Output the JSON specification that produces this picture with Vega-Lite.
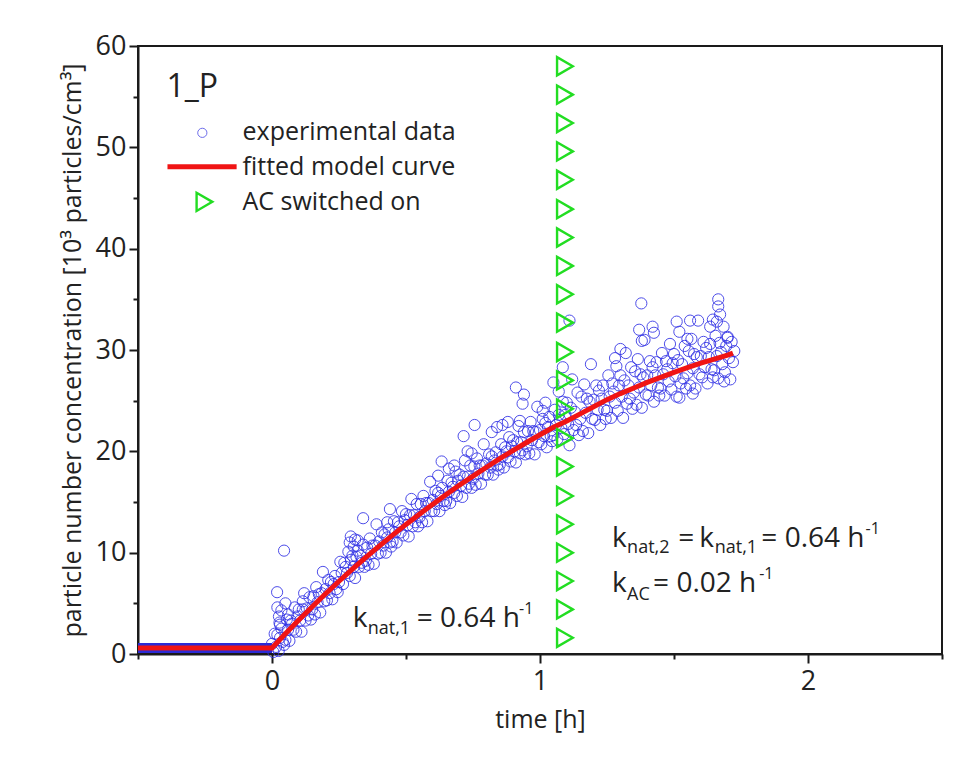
{
  "$schema": "https://vega.github.io/schema/vega-lite/v6.json",
  "width": 804,
  "height": 608,
  "autosize": {"type": "none"},
  "padding": {"left": 138, "top": 46, "right": 14, "bottom": 103},
  "background": "white",
  "config": {
    "view": {"stroke": "#1a1a1a", "strokeWidth": 2},
    "font": "Open Sans",
    "text": {"font": "Open Sans", "color": "#222222"}
  },
  "resolve": {"axis": {"x": "independent", "y": "independent"}},
  "datasets": {
    "band": [{"t": -0.5, "c": 0.6}, {"t": 0, "c": 0.6}],
    "exp": [
      {"t":0,"c":1.0},{"t":0.005,"c":0.2},{"t":0.01,"c":2.0},{"t":0.015,"c":0.7},{"t":0.02,"c":1.9},{"t":0.025,"c":0.3},{"t":0.03,"c":1.6},{"t":0.035,"c":2.5},{"t":0.04,"c":1.2},{"t":0.045,"c":0.9},
      {"t":0.045,"c":10.2},{"t":0.019,"c":6.1},{"t":0.026,"c":3.7},{"t":0.028,"c":3.1},{"t":0.02,"c":4.6},{"t":0.035,"c":4.3},{"t":0.05,"c":5.0},{"t":0.06,"c":3.9},{"t":0.03,"c":2.9},{"t":0.115,"c":5.2},
      {"t":0.05,"c":1.4},{"t":0.055,"c":3.4},{"t":0.06,"c":2.4},{"t":0.065,"c":1.3},{"t":0.07,"c":3.3},{"t":0.075,"c":3.0},{"t":0.08,"c":2.4},{"t":0.085,"c":4.6},{"t":0.09,"c":2.2},{"t":0.095,"c":3.7},
      {"t":0.1,"c":4.4},{"t":0.105,"c":3.3},{"t":0.11,"c":2.2},{"t":0.115,"c":4.4},{"t":0.12,"c":6.0},{"t":0.125,"c":3.3},{"t":0.13,"c":4.5},{"t":0.135,"c":3.8},{"t":0.14,"c":5.6},{"t":0.145,"c":3.4},
      {"t":0.15,"c":4.4},{"t":0.155,"c":5.7},{"t":0.16,"c":3.9},{"t":0.165,"c":6.6},{"t":0.17,"c":5.1},{"t":0.175,"c":5.9},{"t":0.18,"c":4.1},{"t":0.185,"c":6.0},{"t":0.19,"c":8.1},{"t":0.195,"c":5.2},
      {"t":0.2,"c":6.4},{"t":0.205,"c":5.3},{"t":0.21,"c":7.3},{"t":0.215,"c":6.0},{"t":0.22,"c":7.1},{"t":0.225,"c":5.4},{"t":0.23,"c":6.9},{"t":0.235,"c":7.7},{"t":0.24,"c":6.4},{"t":0.245,"c":6.1},
      {"t":0.25,"c":7.1},{"t":0.255,"c":9.1},{"t":0.26,"c":8.0},{"t":0.265,"c":6.9},{"t":0.27,"c":9.0},{"t":0.275,"c":8.6},{"t":0.28,"c":8.0},{"t":0.285,"c":10.1},{"t":0.29,"c":7.7},{"t":0.295,"c":9.3},
      {"t":0.294,"c":11.6},{"t":0.29,"c":11.0},{"t":0.305,"c":10.6},{"t":0.31,"c":11.3},{"t":0.32,"c":10.2},
      {"t":0.3,"c":9.7},{"t":0.305,"c":8.6},{"t":0.31,"c":7.5},{"t":0.315,"c":9.6},{"t":0.32,"c":11.2},{"t":0.325,"c":8.6},{"t":0.33,"c":9.7},{"t":0.335,"c":9.0},{"t":0.34,"c":10.8},{"t":0.345,"c":8.6},{"t":0.34,"c":13.4},
      {"t":0.35,"c":9.2},{"t":0.355,"c":10.5},{"t":0.36,"c":8.8},{"t":0.365,"c":11.4},{"t":0.37,"c":9.9},{"t":0.375,"c":10.7},{"t":0.38,"c":8.9},{"t":0.385,"c":10.7},{"t":0.39,"c":12.8},{"t":0.395,"c":9.9},
      {"t":0.4,"c":11.1},{"t":0.405,"c":10.0},{"t":0.41,"c":12.0},{"t":0.415,"c":10.7},{"t":0.42,"c":11.8},{"t":0.425,"c":10.0},{"t":0.43,"c":11.5},{"t":0.435,"c":12.3},{"t":0.44,"c":11.0},{"t":0.445,"c":10.6},{"t":0.44,"c":14.3},{"t":0.43,"c":13.0},
      {"t":0.45,"c":11.1},{"t":0.455,"c":13.1},{"t":0.46,"c":12.0},{"t":0.465,"c":11.0},{"t":0.47,"c":13.0},{"t":0.475,"c":12.6},{"t":0.48,"c":12.0},{"t":0.485,"c":14.1},{"t":0.49,"c":11.7},{"t":0.495,"c":13.2},
      {"t":0.5,"c":13.8},{"t":0.505,"c":12.7},{"t":0.51,"c":11.6},{"t":0.515,"c":13.7},{"t":0.52,"c":15.3},{"t":0.525,"c":12.6},{"t":0.53,"c":13.7},{"t":0.535,"c":13.0},{"t":0.54,"c":14.8},{"t":0.545,"c":12.6},
      {"t":0.55,"c":13.5},{"t":0.555,"c":14.8},{"t":0.56,"c":13.0},{"t":0.565,"c":15.6},{"t":0.57,"c":14.1},{"t":0.575,"c":14.9},{"t":0.58,"c":13.1},{"t":0.585,"c":14.9},{"t":0.59,"c":17.0},{"t":0.595,"c":14.1},
      {"t":0.6,"c":15.2},{"t":0.605,"c":14.1},{"t":0.61,"c":16.1},{"t":0.615,"c":14.8},{"t":0.62,"c":15.9},{"t":0.625,"c":14.1},{"t":0.63,"c":15.6},{"t":0.635,"c":16.4},{"t":0.64,"c":15.1},{"t":0.645,"c":14.7},{"t":0.633,"c":19.0},{"t":0.62,"c":17.6},
      {"t":0.65,"c":15.1},{"t":0.655,"c":17.1},{"t":0.66,"c":16.0},{"t":0.665,"c":14.9},{"t":0.67,"c":16.9},{"t":0.675,"c":16.5},{"t":0.68,"c":15.9},{"t":0.685,"c":18.0},{"t":0.69,"c":15.6},{"t":0.695,"c":17.1},{"t":0.68,"c":18.6},{"t":0.66,"c":18.3},
      {"t":0.7,"c":17.7},{"t":0.705,"c":16.6},{"t":0.71,"c":15.5},{"t":0.715,"c":17.5},{"t":0.72,"c":19.1},{"t":0.725,"c":16.4},{"t":0.73,"c":17.5},{"t":0.735,"c":16.8},{"t":0.74,"c":18.6},{"t":0.745,"c":16.4},{"t":0.715,"c":21.5},{"t":0.756,"c":22.6},{"t":0.73,"c":20.0},{"t":0.745,"c":19.8},
      {"t":0.75,"c":17.3},{"t":0.755,"c":18.5},{"t":0.76,"c":16.7},{"t":0.765,"c":19.3},{"t":0.77,"c":17.8},{"t":0.775,"c":18.6},{"t":0.78,"c":16.8},{"t":0.785,"c":18.6},{"t":0.79,"c":20.7},{"t":0.795,"c":17.7},
      {"t":0.8,"c":18.8},{"t":0.805,"c":17.7},{"t":0.81,"c":19.7},{"t":0.815,"c":18.4},{"t":0.82,"c":19.5},{"t":0.825,"c":17.7},{"t":0.83,"c":19.1},{"t":0.835,"c":19.9},{"t":0.84,"c":18.6},{"t":0.845,"c":18.2},{"t":0.82,"c":21.9},{"t":0.84,"c":22.4},
      {"t":0.85,"c":18.7},{"t":0.855,"c":20.7},{"t":0.86,"c":19.5},{"t":0.865,"c":18.4},{"t":0.87,"c":20.4},{"t":0.875,"c":20.0},{"t":0.88,"c":19.4},{"t":0.885,"c":21.4},{"t":0.89,"c":19.0},{"t":0.895,"c":20.5},{"t":0.86,"c":22.6},{"t":0.88,"c":22.9},
      {"t":0.9,"c":21.1},{"t":0.905,"c":20.0},{"t":0.91,"c":18.9},{"t":0.915,"c":20.9},{"t":0.92,"c":22.5},{"t":0.925,"c":19.8},{"t":0.93,"c":20.9},{"t":0.935,"c":20.1},{"t":0.94,"c":21.9},{"t":0.945,"c":19.7},{"t":0.91,"c":26.3},{"t":0.94,"c":25.6},{"t":0.935,"c":24.7},{"t":0.925,"c":23.0},
      {"t":0.95,"c":20.5},{"t":0.955,"c":22.0},{"t":0.96,"c":19.8},{"t":0.965,"c":22.9},{"t":0.97,"c":21.1},{"t":0.975,"c":22.0},{"t":0.98,"c":19.7},{"t":0.985,"c":21.9},{"t":0.99,"c":24.4},{"t":0.995,"c":20.9},
      {"t":1.0,"c":22.1},{"t":1.005,"c":20.7},{"t":1.01,"c":23.2},{"t":1.015,"c":21.5},{"t":1.02,"c":22.8},{"t":1.025,"c":20.4},{"t":1.03,"c":22.4},{"t":1.035,"c":23.4},{"t":1.04,"c":21.5},{"t":1.045,"c":21.0},{"t":1.02,"c":24.8},{"t":1.01,"c":24.0},
      {"t":1.05,"c":21.6},{"t":1.055,"c":24.1},{"t":1.06,"c":22.6},{"t":1.065,"c":21.2},{"t":1.07,"c":23.6},{"t":1.075,"c":23.1},{"t":1.08,"c":22.3},{"t":1.085,"c":24.9},{"t":1.09,"c":21.7},{"t":1.095,"c":23.6},{"t":1.05,"c":26.8},{"t":1.085,"c":28.3},{"t":1.11,"c":32.9},{"t":1.07,"c":25.9},
      {"t":1.1,"c":24.8},{"t":1.105,"c":22.7},{"t":1.11,"c":20.6},{"t":1.115,"c":24.3},{"t":1.12,"c":27.1},{"t":1.125,"c":22.1},{"t":1.13,"c":23.9},{"t":1.135,"c":22.6},{"t":1.14,"c":25.8},{"t":1.145,"c":21.6},
      {"t":1.15,"c":23.2},{"t":1.155,"c":25.4},{"t":1.16,"c":22.0},{"t":1.165,"c":26.6},{"t":1.17,"c":23.8},{"t":1.175,"c":25.2},{"t":1.18,"c":21.8},{"t":1.185,"c":24.9},{"t":1.19,"c":28.6},{"t":1.195,"c":23.2},
      {"t":1.2,"c":25.1},{"t":1.205,"c":23.1},{"t":1.21,"c":26.5},{"t":1.215,"c":24.1},{"t":1.22,"c":26.0},{"t":1.225,"c":22.6},{"t":1.23,"c":25.2},{"t":1.235,"c":26.5},{"t":1.24,"c":24.1},{"t":1.245,"c":23.2},
      {"t":1.25,"c":24.0},{"t":1.255,"c":27.5},{"t":1.26,"c":25.4},{"t":1.265,"c":23.3},{"t":1.27,"c":26.7},{"t":1.275,"c":25.9},{"t":1.28,"c":24.8},{"t":1.285,"c":28.4},{"t":1.29,"c":24.0},{"t":1.295,"c":26.5},{"t":1.3,"c":30.1},{"t":1.28,"c":29.2},
      {"t":1.3,"c":27.5},{"t":1.305,"c":25.4},{"t":1.31,"c":23.3},{"t":1.315,"c":27.0},{"t":1.32,"c":29.7},{"t":1.325,"c":24.7},{"t":1.33,"c":26.5},{"t":1.335,"c":25.2},{"t":1.34,"c":28.3},{"t":1.345,"c":24.2},
      {"t":1.35,"c":25.8},{"t":1.355,"c":27.9},{"t":1.36,"c":24.6},{"t":1.365,"c":29.1},{"t":1.37,"c":26.3},{"t":1.375,"c":27.6},{"t":1.38,"c":24.3},{"t":1.385,"c":27.3},{"t":1.39,"c":31.0},{"t":1.395,"c":25.6},{"t":1.378,"c":34.6},{"t":1.38,"c":30.9},{"t":1.37,"c":32.0},
      {"t":1.4,"c":27.5},{"t":1.405,"c":25.5},{"t":1.41,"c":28.9},{"t":1.415,"c":26.5},{"t":1.42,"c":28.3},{"t":1.425,"c":24.9},{"t":1.43,"c":27.5},{"t":1.435,"c":28.8},{"t":1.44,"c":26.3},{"t":1.445,"c":25.5},{"t":1.42,"c":32.3},{"t":1.425,"c":31.7},
      {"t":1.45,"c":26.2},{"t":1.455,"c":29.7},{"t":1.46,"c":27.6},{"t":1.465,"c":25.5},{"t":1.47,"c":28.9},{"t":1.475,"c":28.1},{"t":1.48,"c":26.9},{"t":1.485,"c":30.6},{"t":1.49,"c":26.1},{"t":1.495,"c":28.7},
      {"t":1.5,"c":29.6},{"t":1.505,"c":27.4},{"t":1.51,"c":25.4},{"t":1.515,"c":29.0},{"t":1.52,"c":31.8},{"t":1.525,"c":26.7},{"t":1.53,"c":28.6},{"t":1.535,"c":27.2},{"t":1.54,"c":30.4},{"t":1.545,"c":26.2},{"t":1.51,"c":32.8},{"t":1.52,"c":25.3},{"t":1.55,"c":31.1},
      {"t":1.55,"c":27.7},{"t":1.555,"c":29.9},{"t":1.56,"c":26.5},{"t":1.565,"c":31.1},{"t":1.57,"c":28.2},{"t":1.575,"c":29.6},{"t":1.58,"c":26.2},{"t":1.585,"c":29.3},{"t":1.59,"c":32.9},{"t":1.595,"c":27.6},{"t":1.56,"c":32.9},{"t":1.57,"c":25.7},
      {"t":1.6,"c":29.4},{"t":1.605,"c":27.3},{"t":1.61,"c":30.8},{"t":1.615,"c":28.3},{"t":1.62,"c":30.2},{"t":1.625,"c":26.7},{"t":1.63,"c":29.3},{"t":1.635,"c":30.6},{"t":1.64,"c":28.1},{"t":1.645,"c":27.3},{"t":1.635,"c":32.3},{"t":1.645,"c":33.0},
      {"t":1.65,"c":28.0},{"t":1.655,"c":31.4},{"t":1.66,"c":29.4},{"t":1.665,"c":27.2},{"t":1.67,"c":30.7},{"t":1.675,"c":29.8},{"t":1.68,"c":28.6},{"t":1.685,"c":32.3},{"t":1.69,"c":27.8},{"t":1.695,"c":30.4},{"t":1.665,"c":35.0},{"t":1.665,"c":34.3},{"t":1.672,"c":33.5},{"t":1.66,"c":32.8},{"t":1.687,"c":26.9},{"t":1.7,"c":31.2},
      {"t":1.7,"c":31.3},{"t":1.705,"c":29.2},{"t":1.71,"c":27.1},{"t":1.715,"c":30.8},{"t":1.72,"c":28.8},{"t":1.725,"c":29.9}
    ],
    "fit": [
      {"t":-0.5,"c":0.6},{"t":0,"c":0.6},{"t":0.05,"c":2.0},{"t":0.1,"c":3.36},{"t":0.15,"c":4.67},{"t":0.2,"c":5.95},{"t":0.25,"c":7.18},{"t":0.3,"c":8.37},{"t":0.35,"c":9.53},{"t":0.4,"c":10.65},{"t":0.45,"c":11.73},{"t":0.5,"c":12.79},{"t":0.55,"c":13.8},{"t":0.6,"c":14.79},{"t":0.65,"c":15.74},{"t":0.7,"c":16.67},{"t":0.75,"c":17.56},{"t":0.8,"c":18.43},{"t":0.85,"c":19.27},{"t":0.9,"c":20.09},{"t":0.95,"c":20.87},{"t":1.0,"c":21.64},{"t":1.05,"c":22.37},{"t":1.1,"c":23.0},{"t":1.15,"c":23.7},{"t":1.2,"c":24.4},{"t":1.25,"c":25.1},{"t":1.3,"c":25.7},{"t":1.35,"c":26.25},{"t":1.4,"c":26.8},{"t":1.45,"c":27.3},{"t":1.5,"c":27.8},{"t":1.55,"c":28.25},{"t":1.6,"c":28.7},{"t":1.65,"c":29.1},{"t":1.7,"c":29.5},{"t":1.72,"c":29.7}
    ],
    "ac": [
      {"t":1.093,"c":1.6},{"t":1.093,"c":4.4},{"t":1.093,"c":7.2},{"t":1.093,"c":10.0},{"t":1.093,"c":12.8},{"t":1.093,"c":15.6},{"t":1.093,"c":18.5},{"t":1.093,"c":21.3},{"t":1.093,"c":24.2},{"t":1.093,"c":27.0},{"t":1.093,"c":29.8},{"t":1.093,"c":32.7},{"t":1.093,"c":35.5},{"t":1.093,"c":38.3},{"t":1.093,"c":41.1},{"t":1.093,"c":43.9},{"t":1.093,"c":46.8},{"t":1.093,"c":49.6},{"t":1.093,"c":52.4},{"t":1.093,"c":55.2},{"t":1.093,"c":58.0}
    ]
  },
  "layer": [
    {
      "data": {"name": "band"},
      "mark": {"type": "line", "color": "#2b2bd6", "strokeWidth": 10},
      "encoding": {
        "x": {"field": "t", "type": "quantitative", "scale": {"domain": [-0.5, 2.5], "nice": false, "zero": false}, "axis": null},
        "y": {"field": "c", "type": "quantitative", "scale": {"domain": [0, 60], "nice": false, "zero": false}, "axis": null}
      }
    },
    {
      "data": {"name": "exp"},
      "mark": {"type": "point", "shape": "circle", "filled": false, "size": 125, "strokeWidth": 1, "color": "#2f2fe6", "opacity": 0.85},
      "encoding": {
        "x": {"field": "t", "type": "quantitative", "scale": {"domain": [-0.5, 2.5], "nice": false, "zero": false},
          "axis": {"orient": "bottom", "values": [0, 1, 2], "grid": false, "tickSize": 9, "tickWidth": 2, "tickColor": "#1a1a1a", "domainColor": "#1a1a1a", "domainWidth": 2, "labelFont": "Open Sans", "labelFontSize": 27, "labelColor": "#222222", "labelPadding": 5, "labelFlush": false, "labelOverlap": false, "title": "time [h]", "titleFont": "Open Sans", "titleFontSize": 25, "titleFontWeight": "normal", "titleColor": "#222222", "titlePadding": 13}},
        "y": {"field": "c", "type": "quantitative", "scale": {"domain": [0, 60], "nice": false, "zero": false},
          "axis": {"orient": "left", "values": [0, 10, 20, 30, 40, 50, 60], "grid": false, "tickSize": 9, "tickWidth": 2, "tickColor": "#1a1a1a", "domainColor": "#1a1a1a", "domainWidth": 2, "labelFont": "Open Sans", "labelFontSize": 27, "labelColor": "#222222", "labelPadding": 3, "labelFlush": false, "labelOverlap": false, "title": "particle number concentration [10³ particles/cm³]", "titleFont": "Open Sans", "titleFontSize": 25, "titleFontWeight": "normal", "titleColor": "#222222", "titlePadding": 10}}
      }
    },
    {
      "data": {"name": "fit"},
      "mark": {"type": "line", "color": "#f01414", "strokeWidth": 5},
      "encoding": {
        "x": {"field": "t", "type": "quantitative", "scale": {"domain": [-0.5, 2.5], "nice": false, "zero": false}, "axis": null},
        "y": {"field": "c", "type": "quantitative", "scale": {"domain": [0, 60], "nice": false, "zero": false}, "axis": null}
      }
    },
    {
      "data": {"name": "ac"},
      "mark": {"type": "point", "shape": "triangle-right", "filled": false, "size": 330, "strokeWidth": 2.4, "color": "#22dd22", "opacity": 1},
      "encoding": {
        "x": {"field": "t", "type": "quantitative", "scale": {"domain": [-0.5, 2.5], "nice": false, "zero": false},
          "axis": {"orient": "bottom", "values": [-0.5, 0.5, 1.5, 2.5], "grid": false, "domain": false, "labels": false, "tickSize": 5, "tickWidth": 2, "tickColor": "#1a1a1a", "title": null}},
        "y": {"field": "c", "type": "quantitative", "scale": {"domain": [0, 60], "nice": false, "zero": false},
          "axis": {"orient": "left", "values": [5, 15, 25, 35, 45, 55], "grid": false, "domain": false, "labels": false, "tickSize": 5, "tickWidth": 2, "tickColor": "#1a1a1a", "title": null}}
      }
    },
    {
      "data": {"values": [{"t": -0.26, "c": 51.43}]},
      "mark": {"type": "point", "shape": "circle", "filled": false, "size": 85, "strokeWidth": 1, "color": "#4a4ae6", "opacity": 0.8},
      "encoding": {
        "x": {"field": "t", "type": "quantitative", "scale": {"domain": [-0.5, 2.5], "nice": false, "zero": false}, "axis": null},
        "y": {"field": "c", "type": "quantitative", "scale": {"domain": [0, 60], "nice": false, "zero": false}, "axis": null}
      }
    },
    {
      "data": {"values": [{"t": -0.39, "c": 48.08}, {"t": -0.132, "c": 48.08}]},
      "mark": {"type": "line", "color": "#f01414", "strokeWidth": 5},
      "encoding": {
        "x": {"field": "t", "type": "quantitative", "scale": {"domain": [-0.5, 2.5], "nice": false, "zero": false}, "axis": null},
        "y": {"field": "c", "type": "quantitative", "scale": {"domain": [0, 60], "nice": false, "zero": false}, "axis": null}
      }
    },
    {
      "data": {"values": [{"t": -0.252, "c": 44.62}]},
      "mark": {"type": "point", "shape": "triangle-right", "filled": false, "size": 330, "strokeWidth": 2.4, "color": "#22dd22", "opacity": 1},
      "encoding": {
        "x": {"field": "t", "type": "quantitative", "scale": {"domain": [-0.5, 2.5], "nice": false, "zero": false}, "axis": null},
        "y": {"field": "c", "type": "quantitative", "scale": {"domain": [0, 60], "nice": false, "zero": false}, "axis": null}
      }
    },
    {
      "data": {"values": [{"t": -0.394, "c": 55.0, "txt": "1_P"}]},
      "mark": {"type": "text", "align": "left", "baseline": "alphabetic", "fontSize": 32, "font": "Open Sans", "color": "#222222"},
      "encoding": {
        "x": {"field": "t", "type": "quantitative", "scale": {"domain": [-0.5, 2.5], "nice": false, "zero": false}, "axis": null},
        "y": {"field": "c", "type": "quantitative", "scale": {"domain": [0, 60], "nice": false, "zero": false}, "axis": null},
        "text": {"field": "txt"}
      }
    },
    {
      "data": {"values": [
        {"t": -0.11, "c": 50.74, "txt": "experimental data"},
        {"t": -0.11, "c": 47.28, "txt": "fitted model curve"},
        {"t": -0.11, "c": 43.83, "txt": "AC switched on"}
      ]},
      "mark": {"type": "text", "align": "left", "baseline": "alphabetic", "fontSize": 25, "font": "Open Sans", "color": "#222222"},
      "encoding": {
        "x": {"field": "t", "type": "quantitative", "scale": {"domain": [-0.5, 2.5], "nice": false, "zero": false}, "axis": null},
        "y": {"field": "c", "type": "quantitative", "scale": {"domain": [0, 60], "nice": false, "zero": false}, "axis": null},
        "text": {"field": "txt"}
      }
    },
    {
      "data": {"values": [
        {"t": 0.301, "c": 2.67, "txt": "k"},
        {"t": 0.54, "c": 2.67, "txt": "= 0.64 h"},
        {"t": 1.269, "c": 10.56, "txt": "k"},
        {"t": 1.516, "c": 10.56, "txt": "="},
        {"t": 1.594, "c": 10.56, "txt": "k"},
        {"t": 1.826, "c": 10.56, "txt": "= 0.64 h"},
        {"t": 1.269, "c": 6.12, "txt": "k"},
        {"t": 1.422, "c": 6.12, "txt": "= 0.02 h"}
      ]},
      "mark": {"type": "text", "align": "left", "baseline": "alphabetic", "fontSize": 28, "font": "Open Sans", "color": "#222222"},
      "encoding": {
        "x": {"field": "t", "type": "quantitative", "scale": {"domain": [-0.5, 2.5], "nice": false, "zero": false}, "axis": null},
        "y": {"field": "c", "type": "quantitative", "scale": {"domain": [0, 60], "nice": false, "zero": false}, "axis": null},
        "text": {"field": "txt"}
      }
    },
    {
      "data": {"values": [
        {"t": 0.357, "c": 1.97, "txt": "nat,1"},
        {"t": 1.325, "c": 9.97, "txt": "nat,2"},
        {"t": 1.652, "c": 9.97, "txt": "nat,1"},
        {"t": 1.325, "c": 5.33, "txt": "AC"}
      ]},
      "mark": {"type": "text", "align": "left", "baseline": "alphabetic", "fontSize": 18, "font": "Open Sans", "color": "#222222"},
      "encoding": {
        "x": {"field": "t", "type": "quantitative", "scale": {"domain": [-0.5, 2.5], "nice": false, "zero": false}, "axis": null},
        "y": {"field": "c", "type": "quantitative", "scale": {"domain": [0, 60], "nice": false, "zero": false}, "axis": null},
        "text": {"field": "txt"}
      }
    },
    {
      "data": {"values": [
        {"t": 0.922, "c": 3.95, "txt": "-1"},
        {"t": 2.215, "c": 11.85, "txt": "-1"},
        {"t": 1.818, "c": 7.4, "txt": "-1"}
      ]},
      "mark": {"type": "text", "align": "left", "baseline": "alphabetic", "fontSize": 16, "font": "Open Sans", "color": "#222222"},
      "encoding": {
        "x": {"field": "t", "type": "quantitative", "scale": {"domain": [-0.5, 2.5], "nice": false, "zero": false}, "axis": null},
        "y": {"field": "c", "type": "quantitative", "scale": {"domain": [0, 60], "nice": false, "zero": false}, "axis": null},
        "text": {"field": "txt"}
      }
    }
  ]
}
